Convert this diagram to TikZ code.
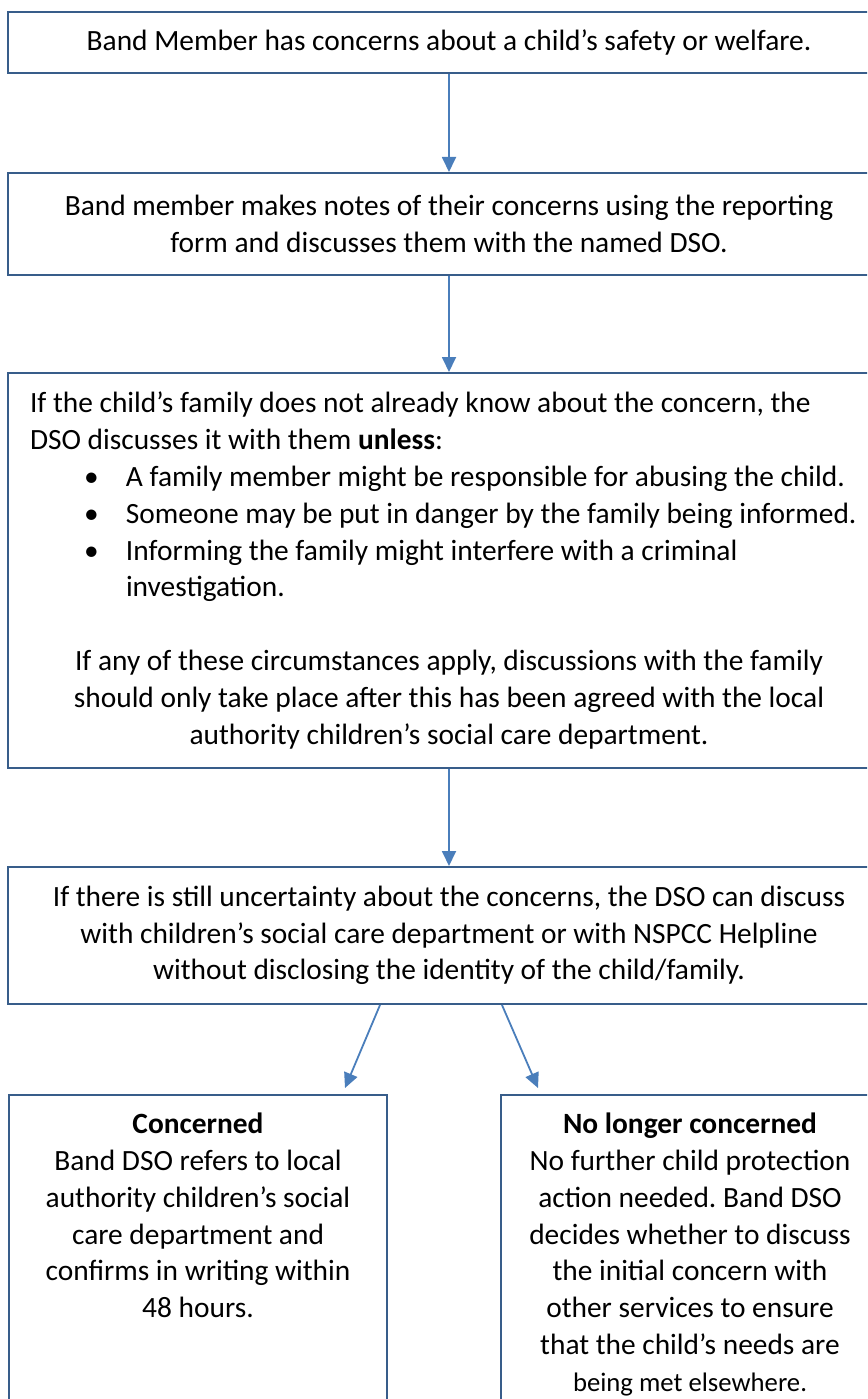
\documentclass[tikz,border=0pt]{standalone}
\usepackage{fontspec}
\setmainfont{Carlito}
\usetikzlibrary{arrows.meta}
\definecolor{boxc}{HTML}{385D8A}
\definecolor{arrc}{HTML}{4A7EBB}
\newcommand{\mainsize}{\fontsize{29.4pt}{36.8pt}\selectfont\frenchspacing}
\newcommand{\smallersize}{\fontsize{26.7pt}{33pt}\selectfont}
\newcommand{\bulitem}{\hspace*{54pt}\makebox[42pt][l]{\textbullet}}
\tikzset{
  flowbox/.style={draw=boxc, line width=2pt, rectangle, inner sep=0pt, font=\mainsize, align=center, minimum width=882pt},
  plainbox/.style={draw=boxc, line width=2pt, rectangle, inner sep=0pt, font=\mainsize, minimum width=882pt},
  arr/.style={draw=arrc, line width=1.8pt, -{Triangle[length=15pt,width=14pt]}},
}
\begin{document}
\begin{tikzpicture}[x=1pt,y=1pt]
\useasboundingbox (0,0) rectangle (867,-1399);
\clip (0,0) rectangle (867,-1399);

\node[flowbox, minimum height=61pt] (b1) at (449,-42.5)
  {Band Member has concerns about a child’s safety or welfare.};

\node[flowbox, minimum height=102pt] (b2) at (449,-224)
  {Band member makes notes of their concerns using the reporting\\form and discusses them with the named DSO.};

\node[plainbox, minimum height=395pt, inner xsep=22pt] (b3) at (449,-570.5)
  {\parbox{838pt}{\raggedright\frenchspacing
   If the child’s family does not already know about the concern, the\\
   DSO discusses it with them \textbf{unless}:\\
   \bulitem\mbox{A family member might be responsible for abusing the child.}\\
   \bulitem\mbox{Someone may be put in danger by the family being informed.}\\
   \bulitem\mbox{Informing the family might interfere with a criminal}\\
   \hspace*{96pt}investigation.\par
   \vspace{36.8pt}
   {\centering If any of these circumstances apply, discussions with the family\\
   should only take place after this has been agreed with the local\\
   authority children’s social care department.\par}}};

\node[flowbox, minimum height=137pt] (b4) at (449,-935.5)
  {If there is still uncertainty about the concerns, the DSO can discuss\\
   with children’s social care department or with NSPCC Helpline\\
   without disclosing the identity of the child/family.};

\node[plainbox, minimum width=378pt, inner ysep=13pt, anchor=north] (b5l) at (198,-1094)
  {\parbox[t][310pt][t]{378pt}{\centering\frenchspacing\strut\textbf{Concerned}\\
   Band DSO refers to local\\
   authority children’s social\\
   care department and\\
   confirms in writing within\\
   48 hours.}};

\node[plainbox, minimum width=378pt, inner ysep=13pt, anchor=north] (b5r) at (690,-1094)
  {\parbox[t][310pt][t]{378pt}{\centering\frenchspacing\strut\textbf{No longer concerned}\\
   No further child protection\\
   action needed. Band DSO\\
   decides whether to discuss\\
   the initial concern with\\
   other services to ensure\\
   that the child’s needs are\\
   {\smallersize being met elsewhere.}}};

\draw[arr] (b1) -- (b2);
\draw[arr] (b2) -- (b3);
\draw[arr] (b3) -- (b4);
\draw[arr] ([xshift=-69pt]b4.south) -- ([xshift=147pt,yshift=6pt]b5l.north);
\draw[arr] ([xshift=53pt]b4.south) -- ([xshift=-152pt,yshift=6pt]b5r.north);
\end{tikzpicture}
\end{document}
